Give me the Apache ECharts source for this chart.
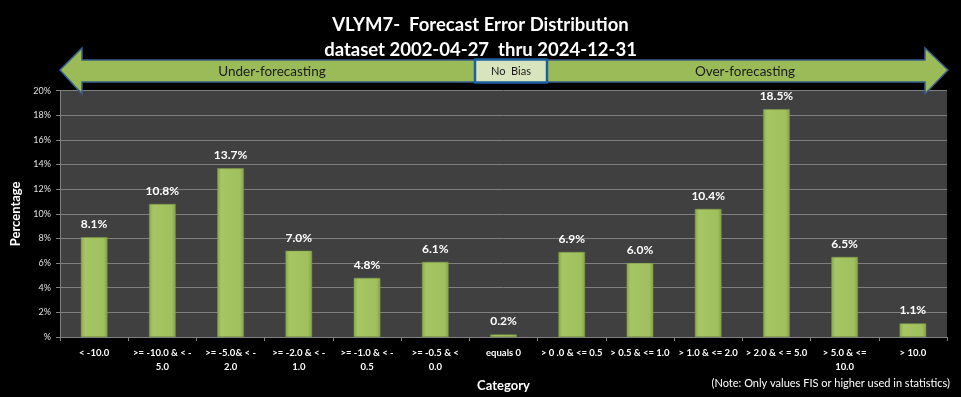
<!DOCTYPE html>
<html><head><meta charset="utf-8">
<script src="https://cdn.jsdelivr.net/npm/echarts@6/dist/echarts.min.js"></script>
<style>html,body{margin:0;padding:0;background:#000;}#c{width:961px;height:397px;}</style>
</head><body><div id="c"></div>
<script>
const categories = ["< -10.0", ">= -10.0 & < -\n5.0", ">= -5.0& < -\n2.0", ">= -2.0 & < -\n1.0", ">= -1.0 & < -\n0.5", ">= -0.5 & <\n0.0", "equals 0", "> 0 .0 & <= 0.5", "> 0.5 & <= 1.0", "> 1.0 & <= 2.0", "> 2.0 & < = 5.0", "> 5.0 & <=\n10.0", "> 10.0"];
const values = [8.1, 10.8, 13.7, 7.0, 4.8, 6.1, 0.2, 6.9, 6.0, 10.4, 18.5, 6.5, 1.1];
const titleLines = ["VLYM7-  Forecast Error Distribution", "dataset 2002-04-27  thru 2024-12-31"];
const bandLabels = ["Under-forecasting", "No  Bias", "Over-forecasting"];
const noteText = "(Note: Only values FIS or higher used in statistics)";

const F = "Lato, 'Open Sans', sans-serif";
const chart = echarts.init(document.getElementById('c'));
const barColor = new echarts.graphic.LinearGradient(0,0,1,0,[
  {offset:0,color:'#8aa84c'},{offset:0.15,color:'#a6c663'},{offset:0.85,color:'#a0c05e'},{offset:1,color:'#86a34a'}]);
chart.setOption({
  backgroundColor:'#000',
  animation:false,
  title:{text:titleLines.join('\n'), left:'center', top:8,
    textStyle:{color:'#fff', fontFamily:F, fontSize:18.5, fontWeight:'bold', lineHeight:25}},
  grid:{left:60, right:14, top:90.7, bottom:56, show:true, backgroundColor:'#404040', borderWidth:0},
  xAxis:{type:'category', data:categories, name:'Category', nameLocation:'middle', nameGap:42,
    nameTextStyle:{color:'#fff', fontFamily:F, fontSize:13, fontWeight:'bold'},
    axisLine:{lineStyle:{color:'#808080'}},
    axisTick:{show:true, length:4, lineStyle:{color:'#808080'}},
    axisLabel:{color:'#fff', fontFamily:F, fontSize:9.5, fontWeight:'bold', lineHeight:14, margin:9, interval:0}},
  yAxis:{type:'value', min:0, max:20, interval:2, name:'Percentage', nameLocation:'middle', nameGap:37,
    nameTextStyle:{color:'#fff', fontFamily:F, fontSize:13, fontWeight:'bold'},
    axisLine:{show:true, lineStyle:{color:'#808080'}},
    axisTick:{show:true, length:4, lineStyle:{color:'#808080'}},
    splitLine:{lineStyle:{color:'#7f7f7f', width:1}},
    axisLabel:{color:'#e0e0e0', fontFamily:F, fontSize:9, margin:9,
      formatter:v=> v===0 ? '%' : v+'%'}},
  series:[{type:'bar', data:values, barWidth:'39%',
    itemStyle:{color:barColor, borderColor:'#7d9a44', borderWidth:0.5},
    label:{show:true, position:'top', distance:7, color:'#fff', fontFamily:F, fontSize:12, fontWeight:'bold',
      formatter:p=>p.value.toFixed(1)+'%'}}],
  graphic:[
    {type:'polygon', shape:{points:[[60,70],[82,48],[82,60],[925,60],[925,48],[948,70],[925,94],[925,82],[82,82],[82,94]]},
      style:{fill:'#9bbb59', stroke:'#385d8a', lineWidth:1.5}, z:10},
    {type:'rect', shape:{x:475,y:59.5,width:72,height:23}, style:{fill:'#d7e4bd', stroke:'#1f5f9f', lineWidth:2.5}, z:11},
    {type:'text', x:272, y:72, style:{text:bandLabels[0], fill:'#1a1a1a', font:'13.5px '+F, textAlign:'center', textVerticalAlign:'middle'}, z:12},
    {type:'text', x:511, y:71, style:{text:bandLabels[1], fill:'#1a1a1a', font:'11px '+F, textAlign:'center', textVerticalAlign:'middle'}, z:12},
    {type:'text', x:745, y:72, style:{text:bandLabels[2], fill:'#1a1a1a', font:'13.5px '+F, textAlign:'center', textVerticalAlign:'middle'}, z:12},
    {type:'text', x:950, y:383, style:{text:noteText, fill:'#fff', font:'11px '+F, textAlign:'right', textVerticalAlign:'middle'}, z:12}
  ]
});
</script></body></html>
